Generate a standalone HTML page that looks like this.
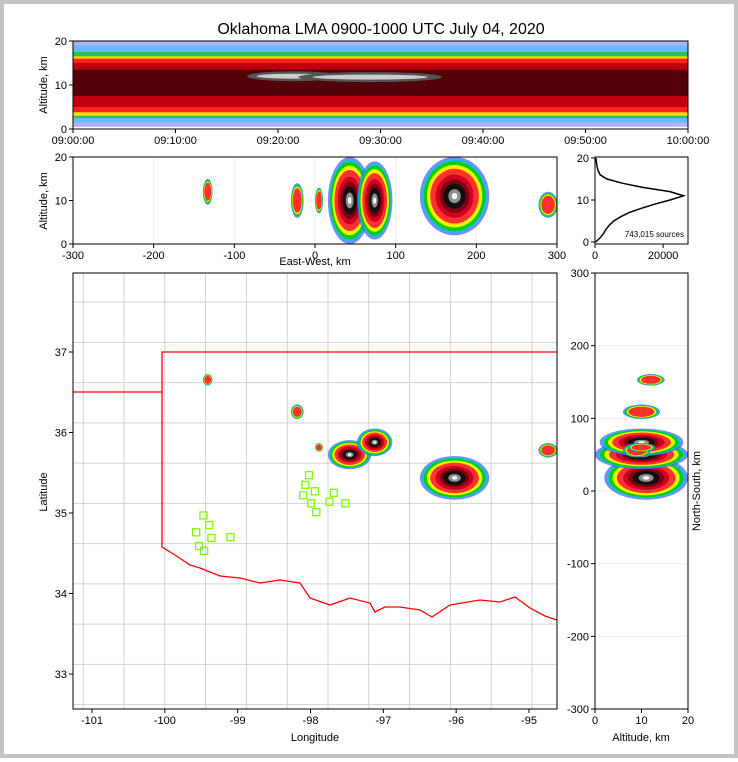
<!DOCTYPE html>
<html><head><meta charset="utf-8"><style>
body{margin:0;background:#fff;}
#wrap{position:relative;width:738px;height:758px;box-sizing:border-box;border:4px solid #c4c4c4;background:#fff;}
svg{position:absolute;left:0;top:0;font-family:"Liberation Sans",sans-serif;}
</style></head><body>
<div id="wrap">
<svg id="s" width="738" height="758" viewBox="4 4 738 758"></svg>
</div>
<script>
// ---- data ----
const blobX = [173, 43, 74, -22, -133, 289, 5];
const blobY = [18, 50, 67, 109, 153, 56, 60];
const blobRX = [43, 27, 22, 8, 6, 12, 5];
const blobRY = [30, 20, 19, 10, 8, 10, 6];
const blobAlt = [11, 10, 10, 10, 12, 9, 10];
const blobAltSpread = [9, 10, 9, 4, 3, 3, 3];
const histAlt = [0, 1, 2, 3, 4, 5, 6, 7, 8, 9, 10, 11, 12, 13, 14, 15, 16, 17, 18, 19, 20];
const histCount = [200, 1500, 2500, 3200, 4200, 5500, 7500, 10000, 13500, 17500, 22000, 26000, 22000, 14000, 8000, 3500, 1500, 900, 600, 400, 250];
const stationLon = [-99.47, -99.39, -99.57, -99.36, -99.53, -99.46, -99.10, -98.02, -98.07, -97.94, -98.10, -97.99, -97.92, -97.74, -97.68, -97.52];
const stationLat = [34.97, 34.85, 34.76, 34.69, 34.59, 34.53, 34.70, 35.47, 35.35, 35.27, 35.22, 35.12, 35.01, 35.14, 35.25, 35.12];
const bandLow = [0.5, 1.5, 2.5, 3, 3.8, 5, 7.5];
const bandHigh = [20, 19, 17.5, 16.5, 16, 15, 13.5];
const bandColor = ['#7070ff', '#30c8ff', '#20c020', '#f0e000', '#ff2020', '#c00010', '#400008'];
const bandOpacity = [0.55, 0.6, 0.8, 1, 1, 1, 0.85];
const streakStart = [17, 22];
const streakEnd = [26, 36];
const streakAlt = [12, 11.8];
const timeTicks = ['09:00:00', '09:10:00', '09:20:00', '09:30:00', '09:40:00', '09:50:00', '10:00:00'];
const ewTicks = [-300, -200, -100, 0, 100, 200, 300];
const nsTicks = [-300, -200, -100, 0, 100, 200, 300];
const lonTicks = [-101, -100, -99, -98, -97, -96, -95];
const latTicks = [33, 34, 35, 36, 37];
const altTicks = [0, 10, 20];

const NS = 'http://www.w3.org/2000/svg';
const svg = document.getElementById('s');
function el(tag, attrs, parent, text) {
  const e = document.createElementNS(NS, tag);
  for (const k in attrs) e.setAttribute(k, attrs[k]);
  if (text !== undefined) e.textContent = text;
  (parent || svg).appendChild(e);
  return e;
}
function lin(d0, d1, r0, r1) { return v => r0 + (v - d0) * (r1 - r0) / (d1 - d0); }

const P1 = {x0: 73, x1: 688, y0: 41, y1: 129};
const P2 = {x0: 73, x1: 557, y0: 157, y1: 244};
const P3 = {x0: 595, x1: 688, y0: 157, y1: 244};
const P4 = {x0: 73, x1: 557, y0: 273, y1: 709};
const P5 = {x0: 595, x1: 688, y0: 273, y1: 709};

const tX = lin(0, 60, P1.x0, P1.x1), tY = lin(0, 20, P1.y1, P1.y0);
const ewX = lin(-300, 300, P2.x0, P2.x1), aY2 = lin(0, 20, P2.y1, P2.y0);
const hX = lin(0, 27300, P3.x0, P3.x1), hY = lin(0, 20, 242, 158);
const mX = lin(-300, 300, P4.x0, P4.x1), mY = lin(-300, 300, P4.y1, P4.y0);
const lonX = lin(-101, -95, 92, 529), latY = lin(33, 37, 674, 352);
const aX5 = lin(0, 20, P5.x0, P5.x1), nsY = lin(-300, 300, P5.y1, P5.y0);

const defs = el('defs', {});
[P1, P2, P3, P4, P5].forEach((p, i) => {
  const c = el('clipPath', {id: 'c' + i}, defs);
  el('rect', {x: p.x0, y: p.y0, width: p.x1 - p.x0, height: p.y1 - p.y0}, c);
});

function frame(p, name) {
  el('rect', {x: p.x0, y: p.y0, width: p.x1 - p.x0, height: p.y1 - p.y0, fill: 'none', stroke: '#000', 'stroke-width': 1,  });
}
function xtick(x, y, label, parent) {
  el('line', {x1: x, x2: x, y1: y, y2: y + 4, stroke: '#000'});
  el('text', {x: x, y: y + 15, 'font-size': 11, 'text-anchor': 'middle',  }, parent, label);
}
function ytick(x, y, label) {
  el('line', {x1: x, x2: x - 4, y1: y, y2: y, stroke: '#000'});
  el('text', {x: x - 6, y: y + 4, 'font-size': 11, 'text-anchor': 'end',  }, null, label);
}

const ringColors = ['#5050ff', '#00c8ff', '#00d000', '#f0f000', '#ff3030', '#d00020', '#800010', '#101010', '#909090', '#ffffff'];
const ringScale = [1, 0.95, 0.89, 0.8, 0.7, 0.55, 0.43, 0.32, 0.18, 0.08];
function blob(g, cx, cy, rx, ry, levels) {
  for (let i = 0; i < levels; i++) {
    el('ellipse', {cx: cx, cy: cy, rx: Math.max(rx * ringScale[i], 0.5), ry: Math.max(ry * ringScale[i], 0.5), fill: ringColors[i], opacity: i < 2 ? 0.7 : 1}, g);
  }
}

el('text', {x: 381, y: 34, 'font-size': 16, 'text-anchor': 'middle',  }, null, 'Oklahoma LMA 0900-1000 UTC July 04, 2020');

// Panel 1
const g1 = el('g', {'clip-path': 'url(#c0)',  });
for (let i = 0; i < bandLow.length; i++) {
  const r = el('rect', {x: P1.x0, width: P1.x1 - P1.x0, y: tY(bandHigh[i]), height: tY(bandLow[i]) - tY(bandHigh[i]), fill: bandColor[i], opacity: bandOpacity[i]}, g1);
  
  
}
for (let i = 0; i < streakStart.length; i++) {
  const cx = (tX(streakStart[i]) + tX(streakEnd[i])) / 2, rx = (tX(streakEnd[i]) - tX(streakStart[i])) / 2;
  el('ellipse', {cx: cx, cy: tY(streakAlt[i]), rx: rx, ry: 5, fill: '#555'}, g1);
  el('ellipse', {cx: cx, cy: tY(streakAlt[i]), rx: rx * 0.8, ry: 2.5, fill: '#ccc'}, g1);
}
frame(P1, 'time-height-frame');
timeTicks.forEach((t, i) => xtick(tX(i * 10), P1.y1, t));
altTicks.forEach(a => ytick(P1.x0, tY(a), String(a)));
el('text', {x: 47, y: 85, 'font-size': 11, 'text-anchor': 'middle', transform: 'rotate(-90 47 85)',  }, null, 'Altitude, km');

// Panel 2
const g2 = el('g', {'clip-path': 'url(#c1)',  });
ewTicks.forEach(v => el('line', {x1: ewX(v), x2: ewX(v), y1: P2.y0, y2: P2.y1, stroke: '#eee'}, g2));
for (let i = 0; i < blobX.length; i++) {
  const g = el('g', {}, g2);
  
  
  blob(g, ewX(blobX[i]), aY2(blobAlt[i]), ewX(blobX[i] + blobRX[i]) - ewX(blobX[i]), aY2(0) - aY2(blobAltSpread[i]), i < 3 ? 10 : 5);
}
frame(P2, 'ew-altitude-frame');
ewTicks.forEach(v => xtick(ewX(v), P2.y1, String(v)));
altTicks.forEach(a => ytick(P2.x0, aY2(a), String(a)));
el('text', {x: 47, y: 201, 'font-size': 11, 'text-anchor': 'middle', transform: 'rotate(-90 47 201)',  }, null, 'Altitude, km');
el('text', {x: 315, y: 265, 'font-size': 11, 'text-anchor': 'middle',  }, null, 'East-West, km');

// Panel 3
const g3 = el('g', {'clip-path': 'url(#c2)',  });
const pts = histAlt.map((a, i) => hX(histCount[i]) + ',' + hY(a)).join(' ');
const pl = el('polyline', {points: pts, fill: 'none', stroke: '#000', 'stroke-width': 1.5}, g3);


el('text', {x: 684, y: 237, 'font-size': 8, 'text-anchor': 'end',  }, g3, '743,015 sources');
frame(P3, 'histogram-frame');
[0, 20000].forEach(v => xtick(hX(v), P3.y1, String(v)));
[0, 10, 20].forEach(a => ytick(P3.x0, hY(a), String(a)));

// Panel 4 map
const g4 = el('g', {'clip-path': 'url(#c3)',  });
for (let lon = -101.12; lon < -94.5; lon += 0.56) el('line', {x1: lonX(lon), x2: lonX(lon), y1: P4.y0, y2: P4.y1, stroke: '#d2d2d2'}, g4);
for (let lat = 32.62; lat < 38; lat += 0.5) el('line', {x1: P4.x0, x2: P4.x1, y1: latY(lat), y2: latY(lat), stroke: '#d2d2d2'}, g4);
el('polyline', {points: '73,392 162,392 162,352 557,352', fill: 'none', stroke: '#f00', 'stroke-width': 1.3,  }, g4);
el('polyline', {points: '162,392 162,547 175,555 190,565 200,568 220,576 240,578 260,583 280,580 300,583 310,598 330,605 350,598 370,603 375,612 385,607 400,607 420,610 432,617 450,605 480,600 500,602 515,597 530,608 545,616 557,620', fill: 'none', stroke: '#f00', 'stroke-width': 1.3,  }, g4);
for (let i = 0; i < blobX.length; i++) {
  const g = el('g', {}, g4);
  
  
  blob(g, mX(blobX[i]), mY(blobY[i]), mX(blobX[i] + blobRX[i]) - mX(blobX[i]), mY(0) - mY(blobRY[i]), i < 3 ? 10 : 5);
}
for (let i = 0; i < stationLon.length; i++) {
  const r = el('rect', {x: lonX(stationLon[i]) - 3.5, y: latY(stationLat[i]) - 3.5, width: 7, height: 7, fill: 'none', stroke: '#7cfc00', 'stroke-width': 1.3}, g4);
  
  
}
frame(P4, 'map-frame');
lonTicks.forEach(v => xtick(lonX(v), P4.y1, String(v)));
latTicks.forEach(v => ytick(P4.x0, latY(v), String(v)));
el('text', {x: 315, y: 741, 'font-size': 11, 'text-anchor': 'middle',  }, null, 'Longitude');
el('text', {x: 47, y: 492, 'font-size': 11, 'text-anchor': 'middle', transform: 'rotate(-90 47 492)',  }, null, 'Latitude');

// Panel 5
const g5 = el('g', {'clip-path': 'url(#c4)',  });
nsTicks.forEach(v => el('line', {x1: P5.x0, x2: P5.x1, y1: nsY(v), y2: nsY(v), stroke: '#eee'}, g5));
for (let i = 0; i < blobX.length; i++) {
  const g = el('g', {}, g5);
  
  
  blob(g, aX5(blobAlt[i]), nsY(blobY[i]), aX5(blobAltSpread[i]) - aX5(0), nsY(0) - nsY(blobRY[i]), i < 3 ? 10 : 5);
}
frame(P5, 'altitude-ns-frame');
[0, 10, 20].forEach(v => xtick(aX5(v), P5.y1, String(v)));
nsTicks.forEach(v => ytick(P5.x0, nsY(v), String(v)));
el('text', {x: 641, y: 741, 'font-size': 11, 'text-anchor': 'middle',  }, null, 'Altitude, km');
el('text', {x: 700, y: 491, 'font-size': 11, 'text-anchor': 'middle', transform: 'rotate(-90 700 491)',  }, null, 'North-South, km');
</script>
</body></html>
